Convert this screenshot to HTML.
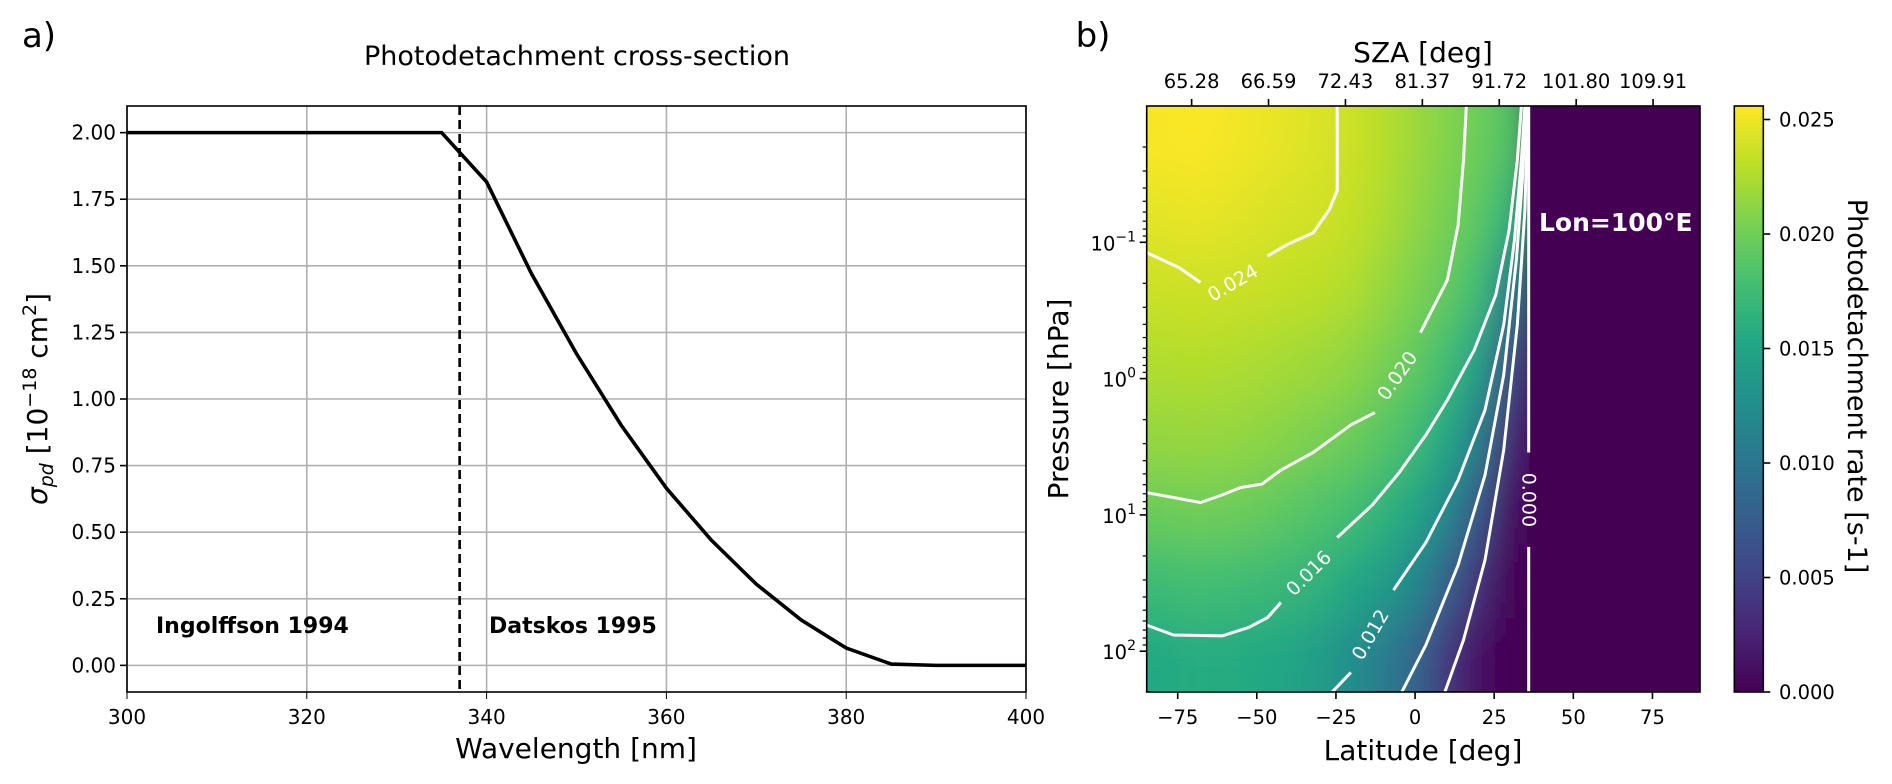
<!DOCTYPE html>
<html><head><meta charset="utf-8">
<style>
html,body{margin:0;padding:0;background:#fff;width:1892px;height:784px;overflow:hidden;}
svg{display:block;font-family:"DejaVu Sans","Liberation Sans",sans-serif;overflow:hidden;}
</style></head>
<body>
<svg id="fig" width="1892" height="784" viewBox="0 0 1892 784" xmlns="http://www.w3.org/2000/svg">
<defs>
<clipPath id="clipA"><rect x="127" y="106" width="899" height="586"/></clipPath>
<clipPath id="clipB"><rect x="1146.7" y="106" width="553.3" height="586"/></clipPath>
<filter id="blur" filterUnits="userSpaceOnUse" x="1000" y="0" width="890" height="784"><feGaussianBlur stdDeviation="14 26"/></filter>
<linearGradient id="cbgrad" x1="0" y1="1" x2="0" y2="0">
<stop offset="0" stop-color="#440154"/><stop offset="0.1" stop-color="#482475"/><stop offset="0.2" stop-color="#414487"/><stop offset="0.3" stop-color="#355f8d"/><stop offset="0.4" stop-color="#2a788e"/><stop offset="0.5" stop-color="#21918c"/><stop offset="0.6" stop-color="#22a884"/><stop offset="0.7" stop-color="#44bf70"/><stop offset="0.8" stop-color="#7ad151"/><stop offset="0.9" stop-color="#bddf26"/><stop offset="1" stop-color="#fde725"/>
</linearGradient>
</defs>
<g id="panelA"></g>
<g id="panelB"></g>
</svg>
<script>
// ---------- Panel a data ----------
const wavelengths = [300,335,340,345,350,355,360,365,370,375,380,385,390,400];
const sigmaValues = [2.0,2.0,1.815,1.47,1.17,0.9,0.665,0.47,0.305,0.17,0.065,0.005,0,0];
const xTicksA = [300,320,340,360,380,400];
const yTicksA = [0,0.25,0.5,0.75,1.0,1.25,1.5,1.75,2.0];
const splitWavelength = 337;

// ---------- Panel b data ----------
const latCenters = [-80,-70,-60,-50,-40,-30,-20,-10,0,10,20,30,40,50,60,70,80,90];
const logPCenters = [-1.73,-1.19,-0.66,-0.12,0.42,0.96,1.49,2.03];
const rateRows = [
 [25.4,25.5,25.3,25.0,24.6,24.2,23.6,22.8,21.8,20.8,19.8,18.5,0,0,0,0,0,0],
 [24.6,24.8,24.6,24.3,24.0,23.8,23.3,22.5,21.4,20.3,19.0,16.5,0,0,0,0,0,0],
 [23.6,23.7,23.6,23.5,23.2,23.0,22.6,21.6,20.6,19.4,17.6,11.0,0,0,0,0,0,0],
 [22.6,22.7,22.6,22.4,22.1,21.8,21.3,20.4,19.3,17.6,14.5,6.0,0,0,0,0,0,0],
 [21.5,21.6,21.5,21.3,20.9,20.4,19.8,18.8,17.6,15.4,11.0,3.0,0,0,0,0,0,0],
 [19.8,20.0,19.9,19.6,19.0,18.5,17.8,16.6,15.0,12.0,7.0,1.2,0,0,0,0,0,0],
 [17.5,17.8,17.7,17.4,17.0,16.4,15.4,14.0,12.0,8.0,3.5,0.4,0,0,0,0,0,0],
 [15.5,15.8,15.7,15.5,15.0,14.0,12.6,10.5,8.4,4.2,1.2,0.1,0,0,0,0,0,0]
]; // units 1e-3 s^-1
const contourLevels = ["0.024","0.020","0.016","0.012","0.008","0.004","0.000"];
const c024a = [[-84.9,-0.925],[-74.6,-0.815],[-67.8,-0.705]];
const c024b = [[-46.6,-0.9],[-40.7,-0.98],[-32.2,-1.07],[-27.1,-1.24],[-24.6,-1.38],[-24.6,-2.0]];
const c020a = [[-84.9,0.836],[-67.8,0.909],[-61.0,0.854],[-55.1,0.799],[-48.3,0.773],[-42.4,0.671],[-32.2,0.542],[-20.3,0.340],[-12.7,0.249]];
const c020b = [[1.7,-0.338],[10.2,-0.723],[13.6,-1.127],[15.3,-1.603],[16.2,-2.0]];
const c016a = [[-84.9,1.808],[-76.3,1.881],[-61.0,1.888],[-52.6,1.826],[-46.6,1.753],[-42.4,1.643]];
const c016b = [[-24.6,1.166],[-13.5,0.927],[-5.0,0.689],[3.4,0.414],[10.2,0.157],[18.7,-0.210],[25.5,-0.614],[29.7,-1.09],[32.3,-1.603],[33.6,-2.0]];
const c012a = [[-26.2,2.30],[-20.3,2.156]];
const c012b = [[-6.8,1.551],[3.4,1.203],[13.6,0.744],[22.1,0.230],[28.0,-0.394],[31.4,-1.017],[33.6,-1.603],[34.7,-2.0]];
const c008 = [[-4.2,2.30],[3.4,1.955],[13.6,1.368],[22.1,0.708],[28.0,-0.026],[32.0,-0.870],[34.0,-1.494],[35.0,-2.0]];
const c004 = [[9.4,2.30],[15.3,1.918],[22.1,1.331],[28.0,0.524],[32.3,-0.394],[34.7,-1.237],[35.7,-2.0]];
const c000a = [[35.9,-2.0],[35.9,0.542]];
const c000b = [[35.9,1.235],[35.9,2.30]];
const latTicks = [-75,-50,-25,0,25,50,75];
const szaTickLats = [-70.6,-46.3,-22.0,2.3,26.6,50.9,75.2];
const szaLabels = ["65.28","66.59","72.43","81.37","91.72","101.80","109.91"];
const pDecades = [-1,0,1,2];
const cbTicks = [0,0.005,0.010,0.015,0.020,0.025];
const cbMax = 0.0256;

const NS = "http://www.w3.org/2000/svg";
function mk(tag, attrs, parent, text){
  const e = document.createElementNS(NS, tag);
  for (const k in attrs) e.setAttribute(k, attrs[k]);
  if (text !== undefined) e.textContent = text;
  parent.appendChild(e);
  return e;
}
const A = document.getElementById('panelA');
const B = document.getElementById('panelB');

const xa = v => 127 + (v - 300) / 100 * 899;
const ya = v => 106 + (2.1 - v) / 2.2 * 586;

let t = mk('text', {x:39, y:47, 'font-size':34, 'text-anchor':'middle'}, A, 'a)');


t = mk('text', {x:577, y:65, 'font-size':27, 'text-anchor':'middle'}, A, 'Photodetachment cross-section');



const gridA = mk('g', {stroke:'#b0b0b0', 'stroke-width':1.6}, A);


xTicksA.forEach(v => {
  mk('line', {x1:xa(v), x2:xa(v), y1:106, y2:692}, gridA);
  mk('line', {x1:xa(v), x2:xa(v), y1:692, y2:699, stroke:'#000'}, A);
  const l = mk('text', {x:xa(v), y:724, 'font-size':20, 'text-anchor':'middle'}, A, String(v));
  
  
});
yTicksA.forEach(v => {
  mk('line', {x1:127, x2:1026, y1:ya(v), y2:ya(v)}, gridA);
  mk('line', {x1:120, x2:127, y1:ya(v), y2:ya(v), stroke:'#000', 'stroke-width':1.6}, A);
  const l = mk('text', {x:116, y:ya(v)+7, 'font-size':20, 'text-anchor':'end'}, A, v.toFixed(2));
  
  
});
const curve = mk('polyline', {points: wavelengths.map((w,i)=>xa(w)+','+ya(sigmaValues[i])).join(' '), fill:'none', stroke:'#000', 'stroke-width':3.6, 'clip-path':'url(#clipA)'}, A);


const dash = mk('line', {x1:xa(splitWavelength), x2:xa(splitWavelength), y1:106, y2:692, stroke:'#000', 'stroke-width':2.6, 'stroke-dasharray':'9,5'}, A);


const frameA = mk('rect', {x:127, y:106, width:899, height:586, fill:'none', stroke:'#000', 'stroke-width':1.6}, A);


t = mk('text', {x:156, y:633, 'font-size':22, 'font-weight':'bold'}, A, 'Ingolffson 1994');


t = mk('text', {x:489, y:633, 'font-size':22, 'font-weight':'bold'}, A, 'Datskos 1995');


t = mk('text', {x:576, y:758, 'font-size':28, 'text-anchor':'middle'}, A, 'Wavelength [nm]');


t = mk('text', {x:0, y:0, 'font-size':28, 'text-anchor':'middle', transform:'translate(47,399) rotate(-90)'}, A);


t.innerHTML = '<tspan font-style="italic">σ</tspan><tspan font-style="italic" font-size="19" dy="6">pd</tspan><tspan dy="-6"> [10</tspan><tspan font-size="19" dy="-11">−18</tspan><tspan dy="11"> cm</tspan><tspan font-size="19" dy="-11">2</tspan><tspan dy="11">]</tspan>';

const xb = lat => 1177.7 + (lat + 75) * 3.165;
const yb = lp => 242.3 + (lp + 1) * 136.3;
const yc = v => 692 - v / 0.005 * 114.5;
const stops = [[68,1,84],[72,36,117],[65,68,135],[53,95,141],[42,120,142],[33,145,140],[34,168,132],[68,191,112],[122,209,81],[189,223,38],[253,231,37]];
function viridis(f){
  f = Math.max(0, Math.min(1, f)) * 10;
  const i = Math.min(9, Math.floor(f)), r = f - i;
  const a = stops[i], b = stops[i+1];
  return 'rgb(' + a.map((c,k)=>Math.round(c + (b[k]-c)*r)).join(',') + ')';
}
t = mk('text', {x:1093, y:47, 'font-size':34, 'text-anchor':'middle'}, B, 'b)');



const clipG = mk('g', {'clip-path':'url(#clipB)'}, B);
const heat = mk('g', {filter:'url(#blur)'}, clipG);


const dLat = 10, dLp = 0.5375;
const nR = rateRows.length;
rateRows.forEach((row, r) => {
  row.forEach((val, c) => {
    let x0 = xb(latCenters[c] - dLat/2), x1 = xb(latCenters[c] + dLat/2);
    let y0 = yb(logPCenters[r] - dLp/2), y1 = yb(logPCenters[r] + dLp/2);
    if (c === 0) x0 = 1000;
    if (c === row.length - 1) x1 = 1890;
    if (r === 0) y0 = 0;
    if (r === nR - 1) y1 = 784;
    const cell = mk('rect', {x:x0-0.5, y:Math.max(0,y0-0.5), width:x1-x0+1, height:Math.min(784,y1+0.5)-Math.max(0,y0-0.5), fill:viridis(val/1000/cbMax)}, heat);
    
    
  });
});
const night = mk('rect', {x:xb(36.2), y:106, width:1700-xb(36.2), height:586, fill:viridis(0)}, clipG);



const contourG = mk('g', {fill:'none', stroke:'#fff', 'stroke-width':3, 'stroke-linejoin':'round'}, clipG);


[c024a,c024b,c020a,c020b,c016a,c016b,c012a,c012b,c008,c004,c000a,c000b].forEach(seg => {
  const p = mk('polyline', {points: seg.map(q=>xb(q[0])+','+yb(q[1])).join(' ')}, contourG);
  
  
});
const cLabels = [["0.024",-57.5,-0.7,-30],["0.020",-5.5,-0.02,-55],["0.016",-33.5,1.43,-45],["0.012",-14,1.88,-60],["0.000",35.9,0.89,90]];
cLabels.forEach(L => {
  const lb = mk('text', {x:0, y:0, 'font-size':19, fill:'#fff', 'text-anchor':'middle', 'dominant-baseline':'central', transform:'translate('+xb(L[1])+','+yb(L[2])+') rotate('+L[3]+')'}, B, L[0]);
  
  
});
t = mk('text', {x:1539, y:231, 'font-size':25, 'font-weight':'bold', fill:'#fff'}, B, 'Lon=100°E');



const frameB = mk('rect', {x:1146.7, y:106, width:553.3, height:586, fill:'none', stroke:'#000', 'stroke-width':1.6}, B);


latTicks.forEach(v => {
  mk('line', {x1:xb(v), x2:xb(v), y1:692, y2:699, stroke:'#000', 'stroke-width':1.6}, B);
  const l = mk('text', {x:xb(v), y:724, 'font-size':19.5, 'text-anchor':'middle'}, B, v < 0 ? '−' + (-v) : String(v));
  
  
});
szaTickLats.forEach((v,i) => {
  mk('line', {x1:xb(v), x2:xb(v), y1:99, y2:106, stroke:'#000', 'stroke-width':1.6}, B);
  const l = mk('text', {x:xb(v), y:88, 'font-size':19.5, 'text-anchor':'middle'}, B, szaLabels[i]);
  
  
});
for (let d = -2; d <= 2; d++) {
  for (let m = 2; m <= 9; m++) {
    const lp = d + Math.log10(m);
    if (lp > 2.297) continue;
    mk('line', {x1:1142.7, x2:1146.7, y1:yb(lp), y2:yb(lp), stroke:'#000', 'stroke-width':1.2}, B);
  }
}
pDecades.forEach(d => {
  mk('line', {x1:1139.7, x2:1146.7, y1:yb(d), y2:yb(d), stroke:'#000', 'stroke-width':1.6}, B);
  const l = mk('text', {x:1136, y:yb(d)+8, 'font-size':19.5, 'text-anchor':'end'}, B);
  
  
  l.innerHTML = '10<tspan font-size="14" dy="-9">' + (d < 0 ? '−' + (-d) : d) + '</tspan>';
});
t = mk('text', {x:1423, y:760, 'font-size':28, 'text-anchor':'middle'}, B, 'Latitude [deg]');


t = mk('text', {x:1423, y:62, 'font-size':28, 'text-anchor':'middle'}, B, 'SZA [deg]');


t = mk('text', {x:0, y:0, 'font-size':28, 'text-anchor':'middle', transform:'translate(1068,399) rotate(-90)'}, B, 'Pressure [hPa]');



const cb = mk('rect', {x:1734.3, y:106, width:29, height:586, fill:'url(#cbgrad)', stroke:'#000', 'stroke-width':1.6}, B);


cbTicks.forEach(v => {
  mk('line', {x1:1763.3, x2:1770.3, y1:yc(v), y2:yc(v), stroke:'#000', 'stroke-width':1.6}, B);
  const l = mk('text', {x:1779, y:yc(v)+7, 'font-size':19.5}, B, v.toFixed(3));
  
  
});
t = mk('text', {x:0, y:0, 'font-size':27, 'text-anchor':'middle', transform:'translate(1848,386) rotate(90)'}, B, 'Photodetachment rate [s-1]');


</script>
</body></html>
